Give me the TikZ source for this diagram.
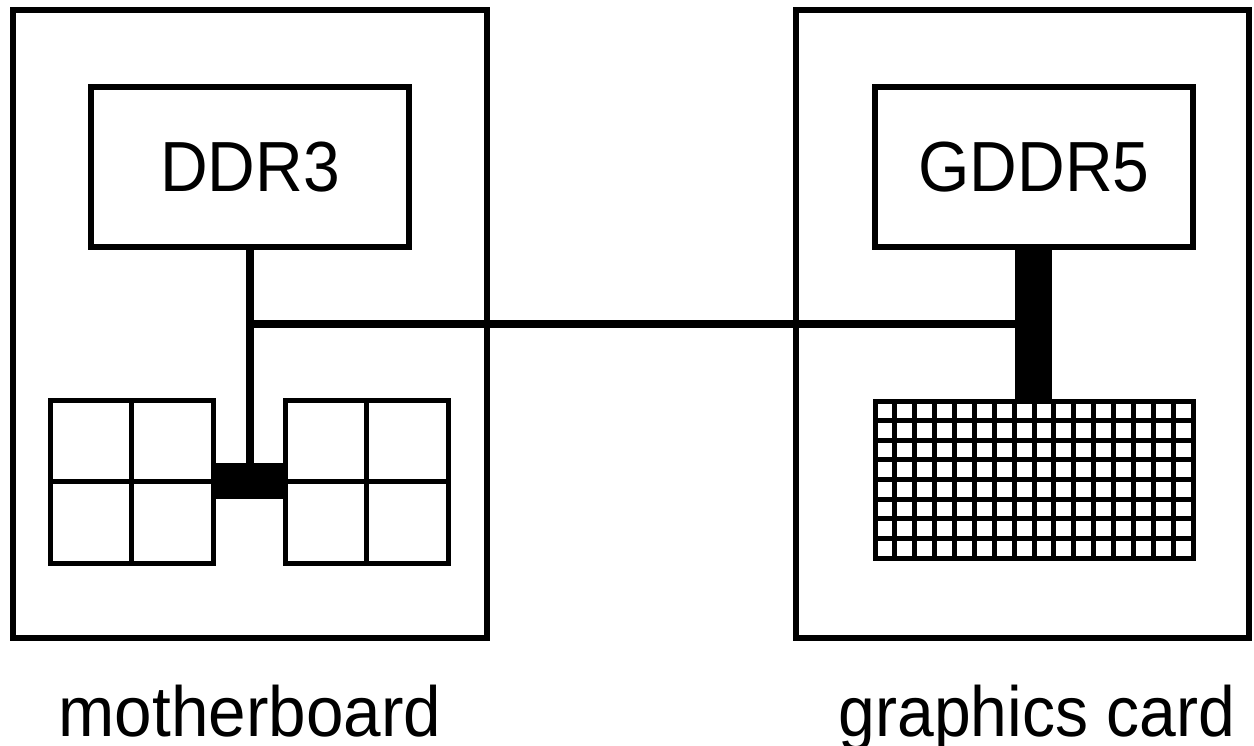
\documentclass[tikz,border=0pt]{standalone}
\usepackage{fontspec}
\setmainfont{Liberation Sans}
\usetikzlibrary{calc}
\begin{document}
\begin{tikzpicture}[x=1pt,y=-1pt,
  box/.style={draw, line width=5.5pt, rectangle, inner sep=0pt, outer sep=0pt},
  solid block/.style={fill, draw=none, rectangle, inner sep=0pt, outer sep=0pt},
  memtext/.style={font=\fontsize{71}{80}\selectfont},
  caption/.style={font=\fontsize{71}{80}\selectfont, inner sep=0pt, anchor=base},
  bus/.style={line width=8pt},
  cellline/.style={line width=5pt}]
\useasboundingbox (0,0) rectangle (1254,746);

% the two boards
\node[box, minimum width=474pt, minimum height=628pt] (mb) at (250,324) {};
\node[box, minimum width=453pt, minimum height=628pt] (gc) at (1022.5,324) {};

% memory modules
\node[box, memtext, minimum width=318pt, minimum height=160pt] (ddr) at (250,167) {\scalebox{0.93}[1]{DDR3}};
\node[box, memtext, minimum width=318pt, minimum height=160pt] (gddr) at (1034,167) {\scalebox{0.93}[1]{GDDR5}};

% CPU: two 2x2 core groups joined by a solid block
\node[box, line width=5pt, minimum width=163pt, minimum height=163pt] (cpuL) at (131.5,481.5) {};
\node[box, line width=5pt, minimum width=163pt, minimum height=163pt] (cpuR) at (366.5,481.5) {};
\draw[cellline] (cpuL.north) -- (cpuL.south) (cpuL.west) -- (cpuL.east);
\draw[cellline] (cpuR.north) -- (cpuR.south) (cpuR.west) -- (cpuR.east);
\node[solid block, minimum width=72pt, minimum height=36pt] (blk) at (250,481) {};

% GPU: 16 x 8 grid of cores
\node[box, line width=5pt, minimum width=318pt, minimum height=157pt] (gpu) at (1034,479.5) {};
\foreach \i in {1,...,15}
  \draw[cellline] ($(gpu.north west)!\i/16!(gpu.north east)$) -- ($(gpu.south west)!\i/16!(gpu.south east)$);
\foreach \j in {1,...,7}
  \draw[cellline] ($(gpu.north west)!\j/8!(gpu.south west)$) -- ($(gpu.north east)!\j/8!(gpu.south east)$);

% wide GDDR5 bus
\node[solid block, minimum width=37pt, minimum height=155pt] (bar) at (1033.5,323.5) {};

% DDR3 bus and PCIe link
\draw[bus] (ddr.south) -- (blk.north);
\coordinate (j) at ($(ddr.south)!0.356!(blk.north)$);
\draw[bus] (j) -- (j -| bar.west);

% captions
\node[caption] (mbl) at (250,736) {\scalebox{0.95}[1]{motherboard}};
\node[caption] (gcl) at (1037,736) {\scalebox{0.93}[1]{graphics card}};
\end{tikzpicture}
\end{document}
